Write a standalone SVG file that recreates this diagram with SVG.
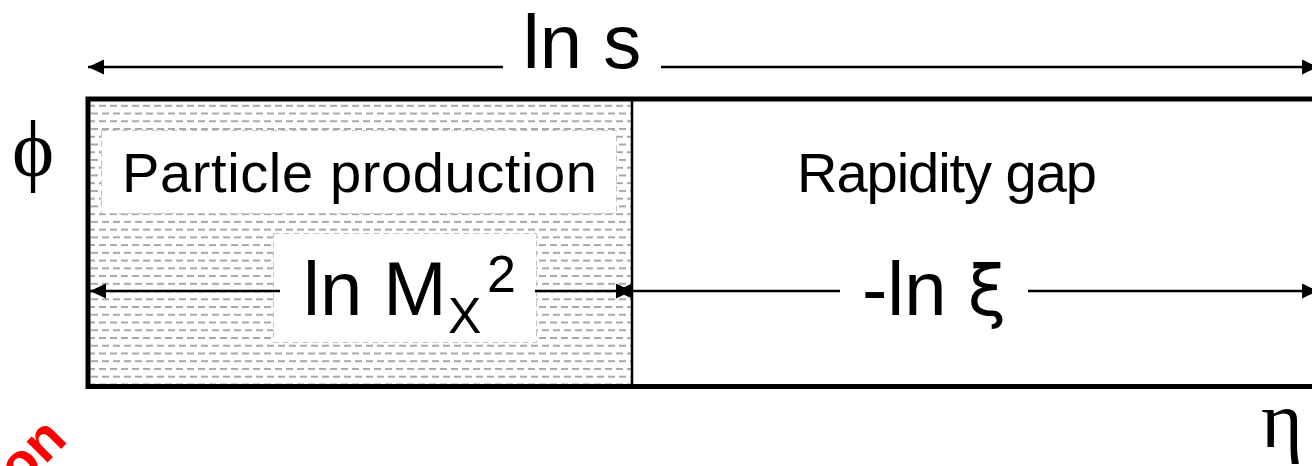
<svg xmlns="http://www.w3.org/2000/svg" width="1312" height="466" viewBox="0 0 1312 466">
  <style>
    .lbl { font-family: "Liberation Sans", "DejaVu Sans", sans-serif; fill: #000; }
    .big { font-size: 76px; }
    .mid { font-size: 56px; }
    .greek { font-family: "Liberation Serif", "DejaVu Serif", serif; fill: #000; font-size: 80px; }
    .conn { stroke: #000; stroke-width: 2.5; fill: none; }
    .box { fill: #fff; stroke: #c4c4c4; stroke-width: 1; stroke-dasharray: 6 4; }
  </style>
  <defs>
    <pattern id="hatch" patternUnits="userSpaceOnUse" x="0" y="104.8" width="11" height="15.48">
      <rect x="0" y="0" width="7" height="2" fill="#a8a8a8"/>
      <rect x="3" y="7.74" width="7" height="2" fill="#a8a8a8"/>
    </pattern>
    <marker id="ah" markerUnits="userSpaceOnUse" markerWidth="18" markerHeight="16" refX="16" refY="7.5" orient="auto-start-reverse">
      <path d="M0,0 L16,7.5 L0,15 z" fill="#000"/>
    </marker>
  </defs>

  <rect width="1312" height="466" fill="#fff"/>

  <g id="production-region">
    <rect x="90" y="101" width="541" height="283.5" fill="url(#hatch)"/>
    <rect class="box" x="101.5" y="130.5" width="515" height="83"/>
    <text class="lbl mid" x="359.5" y="192" text-anchor="middle" textLength="475" lengthAdjust="spacing">Particle production</text>
    <rect class="box" x="273.5" y="233.5" width="263" height="109"/>
  </g>

  <g id="gap-region">
    <text class="lbl mid" x="947" y="192" text-anchor="middle" textLength="300" lengthAdjust="spacing">Rapidity gap</text>
  </g>

  <g id="frame">
    <rect x="88" y="99" width="1250" height="287.5" fill="none" stroke="#000" stroke-width="5"/>
    <line x1="632" y1="100" x2="632" y2="385" stroke="#000" stroke-width="2.5"/>
  </g>

  <g id="connectors">
    <line class="conn" x1="503" y1="67" x2="88" y2="67" marker-end="url(#ah)"/>
    <line class="conn" x1="661" y1="67" x2="1318" y2="67" marker-end="url(#ah)"/>
    <line class="conn" x1="280" y1="291" x2="90" y2="291" marker-end="url(#ah)"/>
    <line class="conn" x1="535" y1="291" x2="632" y2="291" marker-end="url(#ah)"/>
    <line class="conn" x1="840" y1="291" x2="616" y2="291" marker-end="url(#ah)"/>
    <line class="conn" x1="1028" y1="291" x2="1318" y2="291" marker-end="url(#ah)"/>
  </g>

  <g id="labels">
    <text class="lbl big" x="582" y="68" text-anchor="middle">ln s</text>
    <text class="lbl big" x="303" y="315">ln M</text>
    <text class="lbl" x="448" y="333" font-size="50">X</text>
    <text class="lbl" x="487" y="292" font-size="52">2</text>
    <text class="lbl big" x="862" y="315">-ln <tspan font-family="'DejaVu Sans', sans-serif" font-size="70">ξ</tspan></text>
    <text class="greek" x="33" y="176" text-anchor="middle">ϕ</text>
    <text class="greek" x="1282" y="447" text-anchor="middle">η</text>
  </g>

  <g id="watermark">
    <text x="69" y="441" transform="rotate(-45 69 441)" text-anchor="end" font-family="'Liberation Sans', Arial, sans-serif" font-weight="bold" font-size="56" fill="#ff0000">on</text>
  </g>
</svg>
